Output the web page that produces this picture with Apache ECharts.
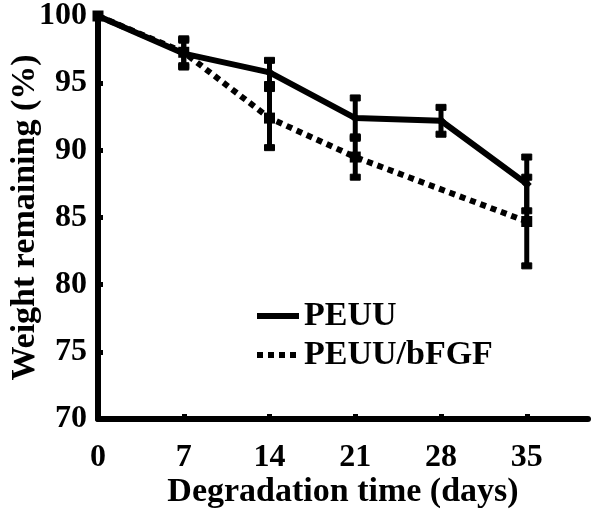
<!DOCTYPE html>
<html>
<head>
<meta charset="utf-8">
<script src="https://cdn.jsdelivr.net/npm/echarts@6/dist/echarts.min.js"></script>
<style>
  html, body { margin: 0; padding: 0; background: #fff; }
  #chart { width: 602px; height: 524px; }
</style>
</head>
<body>
<div id="chart"></div>
<script>
// degradation days
var days = [0, 7, 14, 21, 28, 35];
var xTicks = [0, 7, 14, 21, 28, 35];

// weight remaining (%) with symmetric error (sd); bFGF was not measured at day 28
var peuu = [100, 97.2, 95.8, 92.4, 92.2, 87.5];
var peuuErr = [0, 1.0, 0.9, 1.5, 1.0, 2.0];
var bfgf = [100, 97.3, 92.4, 89.5, null, 84.7];
var bfgfErr = [0, 1.0, 2.2, 1.5, 0, 3.3];

var FONT = "'Liberation Serif', 'Times New Roman', serif";

function pairs(ys) {
  var out = [];
  days.forEach(function (d, i) {
    if (ys[i] != null) out.push([d, ys[i]]);
  });
  return out;
}
function errRows(ys, es) {
  var out = [];
  days.forEach(function (d, i) {
    if (ys[i] != null && es[i] > 0) out.push([d, ys[i] - es[i], ys[i] + es[i]]);
  });
  return out;
}

function renderErr(params, api) {
  var x = api.value(0);
  var lo = api.coord([x, api.value(1)]);
  var hi = api.coord([x, api.value(2)]);
  var st = { fill: '#000', stroke: '#000' };
  return {
    type: 'group',
    children: [
      { type: 'line', shape: { x1: lo[0], y1: lo[1], x2: hi[0], y2: hi[1] },
        style: { stroke: '#000', lineWidth: 5 } },
      { type: 'rect', shape: { x: hi[0] - 5, y: hi[1] - 3, width: 10, height: 6 }, style: st },
      { type: 'rect', shape: { x: lo[0] - 5, y: lo[1] - 3, width: 10, height: 6 }, style: st }
    ]
  };
}

var chart = echarts.init(document.getElementById('chart'));
chart.setOption({
  animation: false,
  backgroundColor: '#fff',
  grid: { left: 98, right: 14, top: 16, bottom: 105, outerBoundsMode: 'none', containLabel: false },
  legend: {
    orient: 'vertical',
    left: 249,
    top: 294,
    itemGap: 5,
    itemWidth: 42,
    itemHeight: 14,
    itemStyle: { opacity: 0 },
    lineStyle: { width: 6 },
    data: ['PEUU', 'PEUU/bFGF'],
    textStyle: { fontFamily: FONT, fontWeight: 'bold', fontSize: 34, color: '#000' }
  },
  xAxis: {
    type: 'value',
    min: 0,
    max: 40,
    interval: 7,
    name: 'Degradation time (days)',
    nameLocation: 'middle',
    nameGap: 56,
    nameMoveOverlap: false,
    nameTextStyle: { fontFamily: FONT, fontWeight: 'bold', fontSize: 34, color: '#000' },
    splitLine: { show: false },
    axisLine: { lineStyle: { color: '#000', width: 6 } },
    axisTick: { inside: true, length: 5, lineStyle: { color: '#000', width: 5 }, customValues: xTicks },
    axisLabel: { margin: 23, fontFamily: FONT, fontWeight: 'bold', fontSize: 32, color: '#000', customValues: xTicks }
  },
  yAxis: {
    type: 'value',
    min: 70,
    max: 100,
    interval: 5,
    name: 'Weight remaining (%)',
    nameLocation: 'middle',
    nameGap: 56,
    nameMoveOverlap: false,
    nameTextStyle: { fontFamily: FONT, fontWeight: 'bold', fontSize: 34, color: '#000' },
    splitLine: { show: false },
    axisLine: { lineStyle: { color: '#000', width: 6 } },
    axisTick: { inside: true, length: 5, lineStyle: { color: '#000', width: 5 } },
    axisLabel: { margin: 11, fontFamily: FONT, fontWeight: 'bold', fontSize: 32, color: '#000' }
  },
  series: [
    {
      name: 'PEUU/bFGF',
      type: 'line',
      data: pairs(bfgf),
      symbol: 'none',
      lineStyle: { color: '#000', width: 6, type: [6, 5], cap: 'butt' },
      itemStyle: { color: '#000' },
      z: 2
    },
    {
      name: 'PEUU',
      type: 'line',
      data: pairs(peuu),
      symbol: 'none',
      lineStyle: { color: '#000', width: 6 },
      itemStyle: { color: '#000' },
      z: 3
    },
    {
      type: 'custom',
      data: errRows(peuu, peuuErr),
      renderItem: renderErr,
      z: 4
    },
    {
      type: 'custom',
      data: errRows(bfgf, bfgfErr),
      renderItem: renderErr,
      z: 4
    },
    {
      type: 'scatter',
      data: pairs(bfgf),
      symbol: 'rect',
      symbolSize: 11,
      itemStyle: { color: '#000', opacity: 1 },
      z: 5
    },
    {
      type: 'scatter',
      data: pairs(peuu).slice(1),
      symbol: 'diamond',
      symbolSize: 10,
      itemStyle: { color: '#000', opacity: 1 },
      z: 5
    }
  ]
});
</script>
</body>
</html>
